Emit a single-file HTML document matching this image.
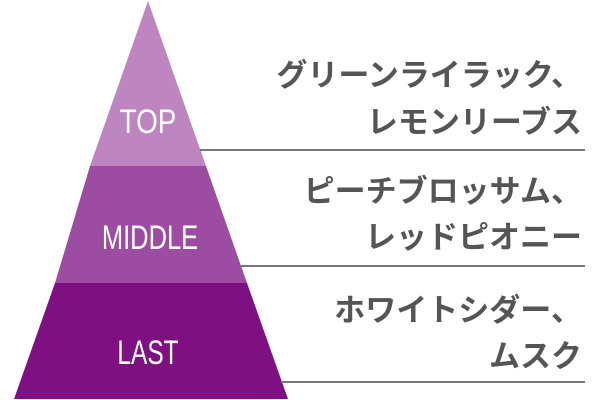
<!DOCTYPE html>
<html><head><meta charset="utf-8"><style>
body{margin:0;width:600px;height:400px;background:#fff;overflow:hidden;position:relative}
.t{position:absolute;right:18px;font-family:"Liberation Sans","Noto Sans CJK JP",sans-serif;font-weight:bold;font-size:31px;color:#555;line-height:31px;white-space:nowrap;text-align:right}
</style></head><body>
<svg width="600" height="400" style="position:absolute;left:0;top:0">
<polygon points="148,1 206,166 90,166" fill="#bd86c0"/>
<polygon points="90,166 206,166 247,283 55,283" fill="#9c4ca1"/>
<polygon points="55,283 247,283 288,399 14,399" fill="#7e1082"/>
<g stroke="#777" stroke-width="2">
<line x1="200" y1="150" x2="585" y2="150"/>
<line x1="240" y1="266" x2="585" y2="266"/>
<line x1="281" y1="382" x2="585" y2="382"/>
</g>
<g fill="#fff" font-family="Liberation Sans, sans-serif" font-size="34" text-anchor="middle">
<text x="148" y="133" transform="translate(148,0) scale(0.82,1) translate(-148,0)">TOP</text>
<text x="150" y="249" transform="translate(150,0) scale(0.75,1) translate(-150,0)">MIDDLE</text>
<text x="148" y="364" transform="translate(148,0) scale(0.72,1) translate(-148,0)">LAST</text>
</g>
</svg>
<div class="t" style="top:60px">グリーンライラック、</div>
<div class="t" style="top:107px">レモンリーブス</div>
<div class="t" style="top:176px">ピーチブロッサム、</div>
<div class="t" style="top:222px">レッドピオニー</div>
<div class="t" style="top:295px">ホワイトシダー、</div>
<div class="t" style="top:341px">ムスク</div>
</body></html>
